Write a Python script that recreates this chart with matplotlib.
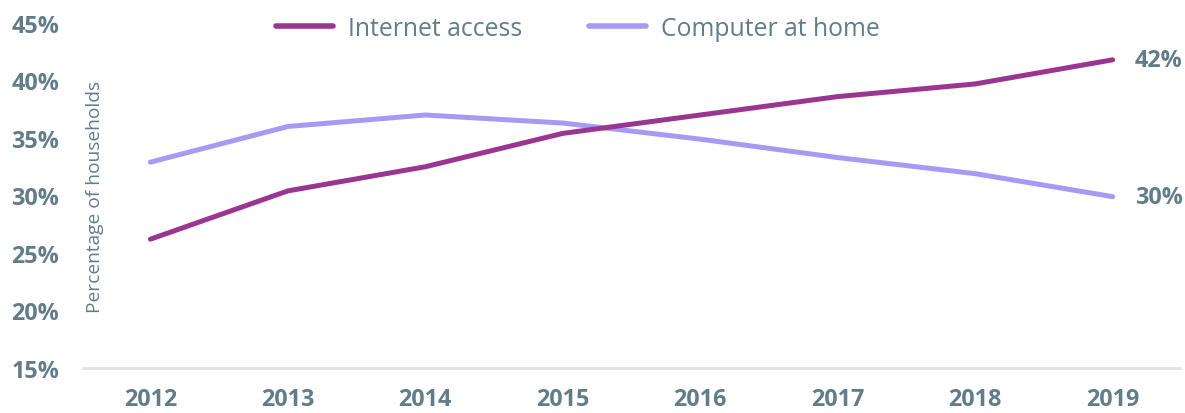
import matplotlib
matplotlib.use("Agg")
import matplotlib.pyplot as plt
from matplotlib.lines import Line2D

years = ["2012", "2013", "2014", "2015", "2016", "2017", "2018", "2019"]
internet = [26.2, 30.4, 32.5, 35.4, 37.0, 38.6, 39.7, 41.8]
computer = [32.9, 36.0, 37.0, 36.3, 34.9, 33.3, 31.9, 29.9]
y_ticks = [15, 20, 25, 30, 35, 40, 45]
series_names = ["Internet access", "Computer at home"]
end_labels = ["42%", "30%"]

C_INT = "#9b3592"
C_COMP = "#a899f5"
TXT = "#627d89"

plt.rcParams['font.family'] = ['Open Sans', 'DejaVu Sans']

fig = plt.figure(figsize=(11.85, 4.14), dpi=100)
ax = fig.add_axes([83/1185, 1-369/414, (1180-83)/1185, (369-24)/414])

x = list(range(len(years)))
ax.plot(x, internet, color=C_INT, lw=3.6, solid_capstyle='round', zorder=3)
ax.plot(x, computer, color=C_COMP, lw=3.6, solid_capstyle='round', zorder=2)

ax.set_xlim(-0.49, 7.49)
ax.set_ylim(15, 45)
ax.set_yticks(y_ticks)
ax.set_yticklabels([f"{v}%" for v in y_ticks], fontsize=16.8, fontweight='bold', color=TXT)
ax.set_xticks(x)
ax.set_xticklabels(years, fontsize=16.8, fontweight='bold', color=TXT)
ax.tick_params(axis='both', length=0)
ax.tick_params(axis='y', pad=17)
ax.tick_params(axis='x', pad=14)
for s in ['top', 'right', 'left']:
    ax.spines[s].set_visible(False)
ax.spines['bottom'].set_color('#e3e3e3')
ax.spines['bottom'].set_linewidth(2)

ax.text(-0.40, 30, "Percentage of households", rotation=90, ha='center', va='center',
        fontsize=13.8, color=TXT)

ax.text(7.16, internet[-1], end_labels[0], fontsize=16.8, fontweight='bold', color=TXT,
        ha='left', va='center')
ax.text(7.16, computer[-1], end_labels[1], fontsize=16.8, fontweight='bold', color=TXT,
        ha='left', va='center')

handles = [Line2D([0], [0], color=C_INT, lw=4, solid_capstyle='round'),
           Line2D([0], [0], color=C_COMP, lw=4, solid_capstyle='round')]
leg = fig.legend(handles, series_names, loc='center', bbox_to_anchor=(578/1185, 1-29/414),
                 ncol=2, frameon=False, fontsize=17.8, handlelength=2.3, columnspacing=2.7,
                 handletextpad=0.6)
for t in leg.get_texts():
    t.set_color(TXT)

fig.savefig("out.png", dpi=100)
